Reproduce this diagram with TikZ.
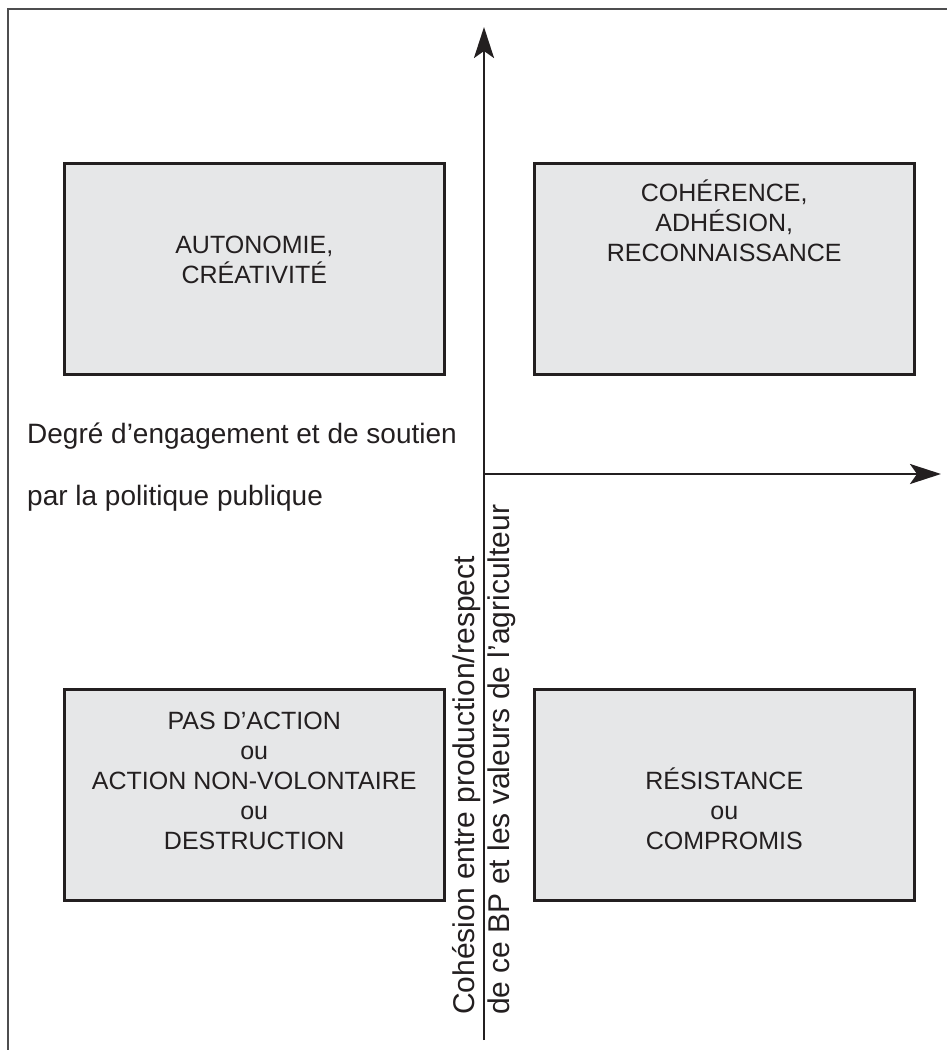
\documentclass[tikz,border=0pt]{standalone}
\usepackage{fontspec}
\setmainfont{Liberation Sans}
\usetikzlibrary{arrows.meta}

\definecolor{ink}{HTML}{231F20}
\definecolor{boxfill}{HTML}{E6E7E8}
\definecolor{framegray}{HTML}{4D4D4F}

\tikzset{
  quad/.style={draw=ink, line width=2.5pt, fill=boxfill, anchor=north west,
    minimum width=380pt, minimum height=211pt, inner sep=0pt},
  quadtext/.style={align=center, text=ink, inner sep=0pt,
    font=\fontsize{25}{30}\selectfont},
  axis/.style={draw=ink, line width=2.6pt,
    -{Stealth[length=31pt, width=20pt, inset=7pt]}},
  axislabel/.style={text=ink, inner sep=0pt, font=\fontsize{28}{35}\selectfont}
}

\begin{document}
\begin{tikzpicture}[x=1pt, y=-1pt]
  \useasboundingbox (0,0) rectangle (947,1050);

  % Frame (open on the right and at the bottom)
  \draw[framegray, line width=2pt] (947,9) -- (8,9) -- (8,1050);

  % Quadrants
  \node[quad] (creat) at (63,162) {};
  \node[quad] (coher) at (533,162) {};
  \node[quad] (inact) at (63,688) {};
  \node[quad] (resist) at (533,688) {};

  \node[quadtext] (creattxt) at ([yshift=9pt]creat.center) {AUTONOMIE,\\CRÉATIVITÉ};
  \node[quadtext] (cohertxt) at ([yshift=48pt]coher.center) {COHÉRENCE,\\ADHÉSION,\\RECONNAISSANCE};
  \node[quadtext] (inacttxt) at ([yshift=14pt]inact.center) {PAS D’ACTION\\ou\\ACTION NON-VOLONTAIRE\\ou\\DESTRUCTION};
  \node[quadtext] (resisttxt) at ([yshift=-14pt]resist.center) {RÉSISTANCE\\ou\\COMPROMIS};

  % Axes
  \coordinate (origin) at (484,474);
  \coordinate (ybot) at (484,1040);
  \coordinate (ytip) at (484,27);
  \coordinate (xtip) at (941,474);
  \draw[axis] (ybot) -- (ytip);
  \draw[axis] (origin) -- (xtip);

  % Axis labels
  \node[axislabel, anchor=base west] (xlab1) at (27,443) {Degré d’engagement et de soutien};
  \node[axislabel, anchor=base west] (xlab2) at (27,505) {par la politique publique};
  \node[axislabel, rotate=90, anchor=west, align=left, font=\fontsize{30}{35}\selectfont] (ylab) at (484,1015)
    {Cohésion entre production/respect\\de ce BP et les valeurs de l’agriculteur};
\end{tikzpicture}
\end{document}
